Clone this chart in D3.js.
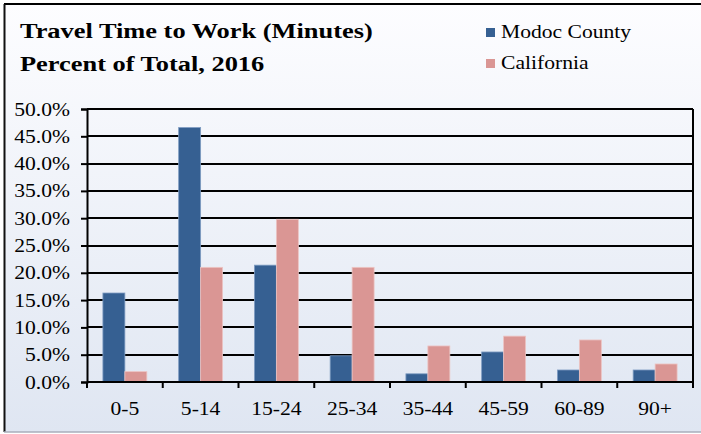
<!DOCTYPE html>
<html>
<head>
<meta charset="utf-8">
<script src="https://cdn.jsdelivr.net/npm/d3@7"></script>
<style>
  body { margin: 0; background: #fff; }
  svg text { font-family: "Liberation Serif", "Times New Roman", serif; fill: #000; }
</style>
</head>
<body>
<div class="chart"></div>
<script>
// travel time buckets (minutes)
var categories = ['0-5', '5-14', '15-24', '25-34', '35-44', '45-59', '60-89', '90+'];
var seriesNames = ['Modoc County', 'California'];
var modoc = [16.3, 46.6, 21.4, 4.8, 1.5, 5.5, 2.2, 2.2];
var california = [1.9, 21.0, 29.8, 21.0, 6.6, 8.4, 7.7, 3.3];
var yTicks = [0, 5, 10, 15, 20, 25, 30, 35, 40, 45, 50];
var colors = ['#366092', '#da9694'];

var w = 701, h = 434;
var sx = 1.2; // the original picture is stretched sideways

var svg = d3.select('.chart').append('svg')
    .attr('width', w)
    .attr('height', h);

var defs = svg.append('defs');
var grad = defs.append('linearGradient')
    .attr('id', 'bg')
    .attr('x1', 0).attr('y1', 0).attr('x2', 0).attr('y2', 1);
grad.append('stop').attr('offset', '0%').attr('stop-color', '#fdfdff');
grad.append('stop').attr('offset', '100%').attr('stop-color', '#dfe6f2');

// frame
svg.append('rect')
    .attr('x', 4).attr('y', 4)
    .attr('width', w + 10).attr('height', 428)
    .style('fill', 'url(#bg)');
svg.append('line').attr('x1', 4).attr('x2', w).attr('y1', 4).attr('y2', 4)
    .style('stroke', '#000').style('stroke-width', 2);
svg.append('line').attr('x1', 4.5).attr('x2', 4.5).attr('y1', 4).attr('y2', 432)
    .style('stroke', '#111').style('stroke-width', 2);
svg.append('line').attr('x1', 4).attr('x2', w).attr('y1', 432).attr('y2', 432)
    .style('stroke', '#a8aebb').style('stroke-width', 1.5);

function stretchedText(g, x, y, str, size, weight, anchor) {
    return g.append('text')
        .attr('transform', 'translate(' + x + ',' + y + ') scale(' + sx + ',1)')
        .attr('text-anchor', anchor || 'start')
        .style('font-size', size + 'px')
        .style('font-weight', weight || 'normal')
        .text(str);
}

// titles
stretchedText(svg, 20, 38, 'Travel Time to Work (Minutes)', 22, 'bold');
stretchedText(svg, 20, 71, 'Percent of Total, 2016', 22, 'bold');

// legend
seriesNames.forEach(function (name, i) {
    var ly = 28 + i * 31;
    svg.append('rect')
        .attr('x', 486).attr('y', ly)
        .attr('width', 9).attr('height', 9)
        .style('fill', colors[i]);
    stretchedText(svg, 501, ly + 9.5, name, 18);
});

// plot box
var pLeft = 87, pRight = 693, pTop = 109, pBottom = 382;

var x0 = d3.scaleBand()
    .domain(categories)
    .range([pLeft, pRight])
    .paddingInner(0.42)
    .paddingOuter(0.21);
var x1 = d3.scaleBand()
    .domain(seriesNames)
    .range([0, x0.bandwidth()]);
var y = d3.scaleLinear()
    .domain([0, 50])
    .range([pBottom, pTop]);

// gridlines
svg.append('g')
    .selectAll('line')
    .data(yTicks)
    .enter()
    .append('line')
    .attr('x1', pLeft)
    .attr('x2', pRight)
    .attr('y1', function (d) { return Math.round(y(d)); })
    .attr('y2', function (d) { return Math.round(y(d)); })
    .style('stroke', '#000')
    .style('stroke-width', 2);

// right edge of plot
svg.append('line')
    .attr('x1', pRight).attr('x2', pRight)
    .attr('y1', pTop).attr('y2', pBottom)
    .style('stroke', '#000').style('stroke-width', 2);

// bars
var rows = categories.map(function (c, i) {
    return {cat: c, vals: [modoc[i], california[i]]};
});

var groups = svg.append('g')
    .selectAll('g')
    .data(rows)
    .enter()
    .append('g')
    .attr('transform', function (d) { return 'translate(' + x0(d.cat) + ',0)'; });

groups.selectAll('rect')
    .data(function (d) {
        return d.vals.map(function (v, i) { return {name: seriesNames[i], value: v, i: i}; });
    })
    .enter()
    .append('rect')
    .attr('x', function (d) { return x1(d.name); })
    .attr('y', function (d) { return y(d.value); })
    .attr('width', x1.bandwidth())
    .attr('height', function (d) { return pBottom - y(d.value); })
    .style('fill', function (d) { return colors[d.i]; })
    .style('stroke', function (d) { return d.i === 0 ? '#7f9cc2' : '#ecc4c3'; })
    .style('stroke-width', 0.8);

// y axis
var yAxis = svg.append('g')
    .attr('transform', 'translate(' + pLeft + ',0)')
    .call(d3.axisLeft(y).tickValues(yTicks).tickSize(6).tickFormat(function (d) {
        return d.toFixed(1) + '%';
    }));
yAxis.select('.domain').style('stroke', '#000').style('stroke-width', 2);
yAxis.selectAll('.tick line').style('stroke', '#000').style('stroke-width', 2);
yAxis.selectAll('.tick text')
    .attr('x', null).attr('dy', null)
    .attr('transform', 'translate(-17,6) scale(' + sx + ',1)')
    .style('font-size', '18px')
    .style('font-family', '"Liberation Serif", serif');

// x axis: ticks on category boundaries
var xAxis = svg.append('g')
    .attr('transform', 'translate(0,' + pBottom + ')');
xAxis.append('line')
    .attr('x1', pLeft).attr('x2', pRight)
    .style('stroke', '#000').style('stroke-width', 2);
var bounds = d3.range(categories.length + 1).map(function (i) {
    return pLeft + i * x0.step();
});
xAxis.selectAll('line.tk')
    .data(bounds)
    .enter()
    .append('line')
    .attr('class', 'tk')
    .attr('x1', function (d) { return d; })
    .attr('x2', function (d) { return d; })
    .attr('y1', 0).attr('y2', 6)
    .style('stroke', '#000').style('stroke-width', 2);
categories.forEach(function (c) {
    stretchedText(xAxis, x0(c) + x0.bandwidth() / 2, 33, c, 18, 'normal', 'middle');
});
</script>
</body>
</html>
